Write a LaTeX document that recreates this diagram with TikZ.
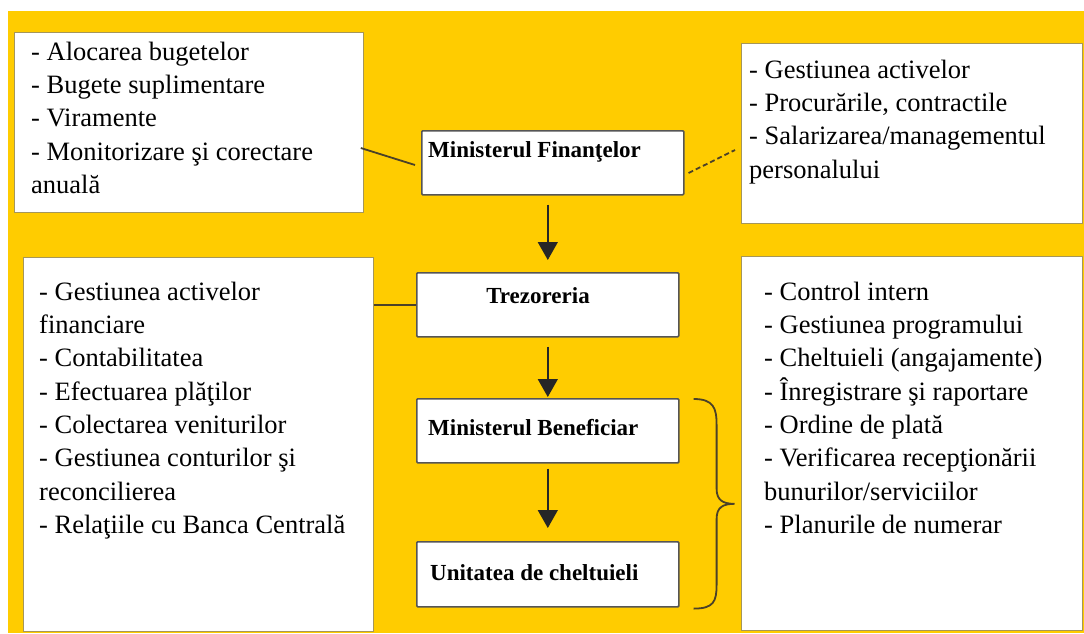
\documentclass[tikz,border=0pt]{standalone}
\usepackage{fontspec}
\setmainfont{Liberation Serif}[Ligatures=NoCommon]
\usetikzlibrary{arrows.meta,calc}

\definecolor{bgyellow}{RGB}{255,204,0}
\definecolor{outeredge}{RGB}{165,150,90}
\definecolor{inneredge}{RGB}{85,85,85}
\definecolor{linkcol}{RGB}{75,65,40}

\tikzset{
  listbox/.style={draw=outeredge, line width=0.8pt, fill=white, inner sep=0pt, anchor=north west},
  unitbox/.style={draw=inneredge, line width=1.6pt, fill=white, rounded corners=1pt,
                  inner sep=0pt, anchor=north west, minimum width=262pt, minimum height=64pt},
  listtext/.style={inner sep=0pt, anchor=north west, align=left,
                   font=\fontsize{26.5}{33.3}\selectfont},
  unittext/.style={inner sep=0pt, font=\fontsize{23}{27}\selectfont\bfseries},
  link/.style={draw=linkcol, line width=1.8pt},
  flow/.style={draw=black!85, line width=1.4pt, -{Triangle[width=20pt,length=18pt]}},
  brace/.style={draw=linkcol, line width=1.8pt}
}

% first-line strut so the top of each list sits at a fixed distance above its baseline
\newcommand{\firstline}{\rule{0pt}{24pt}}

\begin{document}
\begin{tikzpicture}[x=1pt, y=-1pt]
  \useasboundingbox (0,0) rectangle (1084,633);
  \fill[white] (0,0) rectangle (1084,633);
  \fill[bgyellow] (8,11) rectangle (1084,633);

  % side lists
  \node[listbox, minimum width=349pt, minimum height=180pt] (tl) at (14,32) {};
  \node[listbox, minimum width=341pt, minimum height=180pt] (tr) at (741,43) {};
  \node[listbox, minimum width=350pt, minimum height=374pt] (bl) at (23,257) {};
  \node[listbox, minimum width=341pt, minimum height=374pt] (br) at (741,256) {};

  \node[listtext] (tlt) at ($(tl.north west)+(17,4)$) {\firstline- Alocarea bugetelor\\
    - Bugete suplimentare\\ - Viramente\\ - Monitorizare şi corectare\\ anuală};
  \node[listtext] (trt) at ($(tr.north west)+(8,11)$) {\firstline- Gestiunea activelor\\
    - Procurările, contractile\\ - Salarizarea/managementul\\ personalului};
  \node[listtext] (blt) at ($(bl.north west)+(16,19)$) {\firstline- Gestiunea activelor\\
    financiare\\ - Contabilitatea\\ - Efectuarea plăţilor\\ - Colectarea veniturilor\\
    - Gestiunea conturilor şi\\ reconcilierea\\ - Relaţiile cu Banca Centrală};
  \node[listtext] (brt) at ($(br.north west)+(23,20)$) {\firstline- Control intern\\
    - Gestiunea programului\\ - Cheltuieli (angajamente)\\ - Înregistrare şi raportare\\
    - Ordine de plată\\ - Verificarea recepţionării\\ bunurilor/serviciilor\\
    - Planurile de numerar};

  % the chain of institutions
  \node[unitbox] (mf) at (421,130) {};
  \node[unitbox] (tz) at (416,272) {};
  \node[unitbox] (mb) at (416,398) {};
  \node[unitbox, minimum height=65pt] (uc) at (416,541) {};

  \node[unittext, anchor=base west] (mft) at ($(mf.north west)+(7,27)$) {Ministerul Finanţelor};
  \node[unittext, anchor=base] (tzt) at ($(tz.north west)+(122,31)$) {Trezoreria};
  \node[unittext, anchor=base west] (mbt) at ($(mb.north west)+(12,37)$) {Ministerul Beneficiar};
  \node[unittext, anchor=base west] (uct) at ($(uc.north west)+(14,39)$) {Unitatea de cheltuieli};

  % links between lists and institutions
  \draw[link] ($(tl.north east)+(-3,116)$) -- ($(mf.north west)+(-6,35)$);
  \draw[link, dash pattern=on 5pt off 3pt] ($(mf.north east)+(4,43)$) -- ($(tr.north west)+(-6,107)$);
  \draw[link] (bl.east |- tz.west) -- (tz.west);

  % downward flow
  \draw[flow, shorten <=9pt, shorten >=12pt] (tz.north |- mf.south) -- (tz.north);
  \draw[flow, shorten <=9pt, shorten >=1pt] (tz.south) -- (mb.north);
  \draw[flow, shorten <=5pt, shorten >=13pt] (mb.south) -- (uc.north);

  % brace grouping the two lower institutions
  \coordinate (bt) at ($(mb.north east)+(14,1)$);
  \coordinate (bb) at ($(uc.south east)+(14,1)$);
  \coordinate (btip) at ($(bt)!0.5!(bb)+(41,0)$);
  \draw[brace] (bt) .. controls +(20,0) and +(0,-17) .. ($(bt)+(23,26)$)
    -- ($(btip)+(-18,-15)$) .. controls +(0,12) and +(-11,0) .. (btip)
    .. controls +(-11,0) and +(0,-12) .. ($(btip)+(-18,15)$)
    -- ($(bb)+(23,-24)$) .. controls +(0,17) and +(20,0) .. (bb);
\end{tikzpicture}
\end{document}
